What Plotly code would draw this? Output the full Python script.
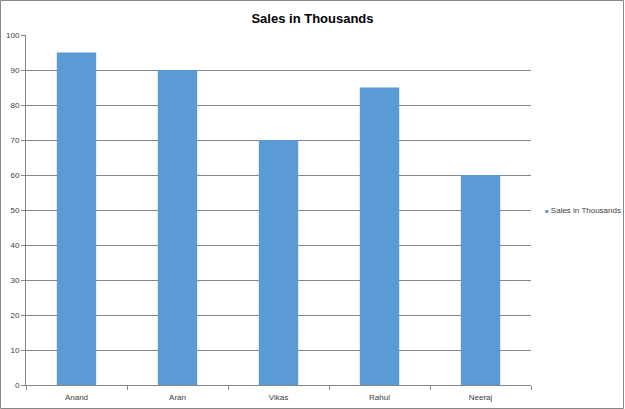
import plotly.graph_objects as go

names = ["Anand", "Aran", "Vikas", "Rahul", "Neeraj"]
sales = [95, 90, 70, 85, 60]
y_ticks = [0, 10, 20, 30, 40, 50, 60, 70, 80, 90, 100]
series_name = "Sales in Thousands"

W, H = 625, 409
L, R, T, B = 26, 0, 35, 24
plot_right = 531
pw, ph = W - L - R, H - T - B

fig = go.Figure()
fig.add_trace(go.Bar(x=names, y=sales, name=series_name,
                     marker=dict(color="#5B9BD5", line=dict(width=0)),
                     showlegend=False, hoverinfo="skip"))

font = "Liberation Sans"
fig.update_layout(
    width=W, height=H,
    margin=dict(l=L, r=R, t=T, b=B, autoexpand=False),
    paper_bgcolor="white", plot_bgcolor="white",
    bargap=0.61,
    title=dict(text="<b>Sales in Thousands</b>", x=0.5, xref="container",
               xanchor="center", y=1 - 18 / H, yanchor="middle",
               font=dict(family=font, size=13, color="#000000")),
    showlegend=False,
    xaxis=dict(domain=[0, (plot_right - L) / pw], automargin=False,
               showline=True, linecolor="#868686", linewidth=1,
               ticks="outside", ticklen=4, tickcolor="#868686",
               tickson="boundaries", showgrid=False, ticklabelstandoff=4,
               tickfont=dict(family=font, size=8, color="#404040")),
    yaxis=dict(range=[0, 100], tickvals=y_ticks, automargin=False,
               showline=True,
               linecolor="#868686", linewidth=1, ticks="outside",
               ticklen=4, tickcolor="#868686", showgrid=True,
               gridcolor="#868686", gridwidth=1, zeroline=False,
               tickfont=dict(family=font, size=8, color="#404040")),
    annotations=[dict(
        text='<span style="color:#5B9BD5;font-size:6px">■</span> ' + series_name,
        xref="paper", yref="paper", x=(543 - L) / pw, y=0.5,
        xanchor="left", yanchor="middle", showarrow=False,
        font=dict(family=font, size=8, color="#404040"))],
    shapes=[dict(type="rect", xref="paper", yref="paper",
                 x0=(0.5 - L) / pw, x1=(W - 1.5 - L) / pw,
                 y0=-(B - 0.5) / ph, y1=1 + (T - 0.5) / ph,
                 line=dict(color="#868686", width=1))],
)
fig.write_html("out.html", config={"displayModeBar": False},
               post_script="document.body.style.margin='0';"
                           "document.body.style.overflow='hidden';")
